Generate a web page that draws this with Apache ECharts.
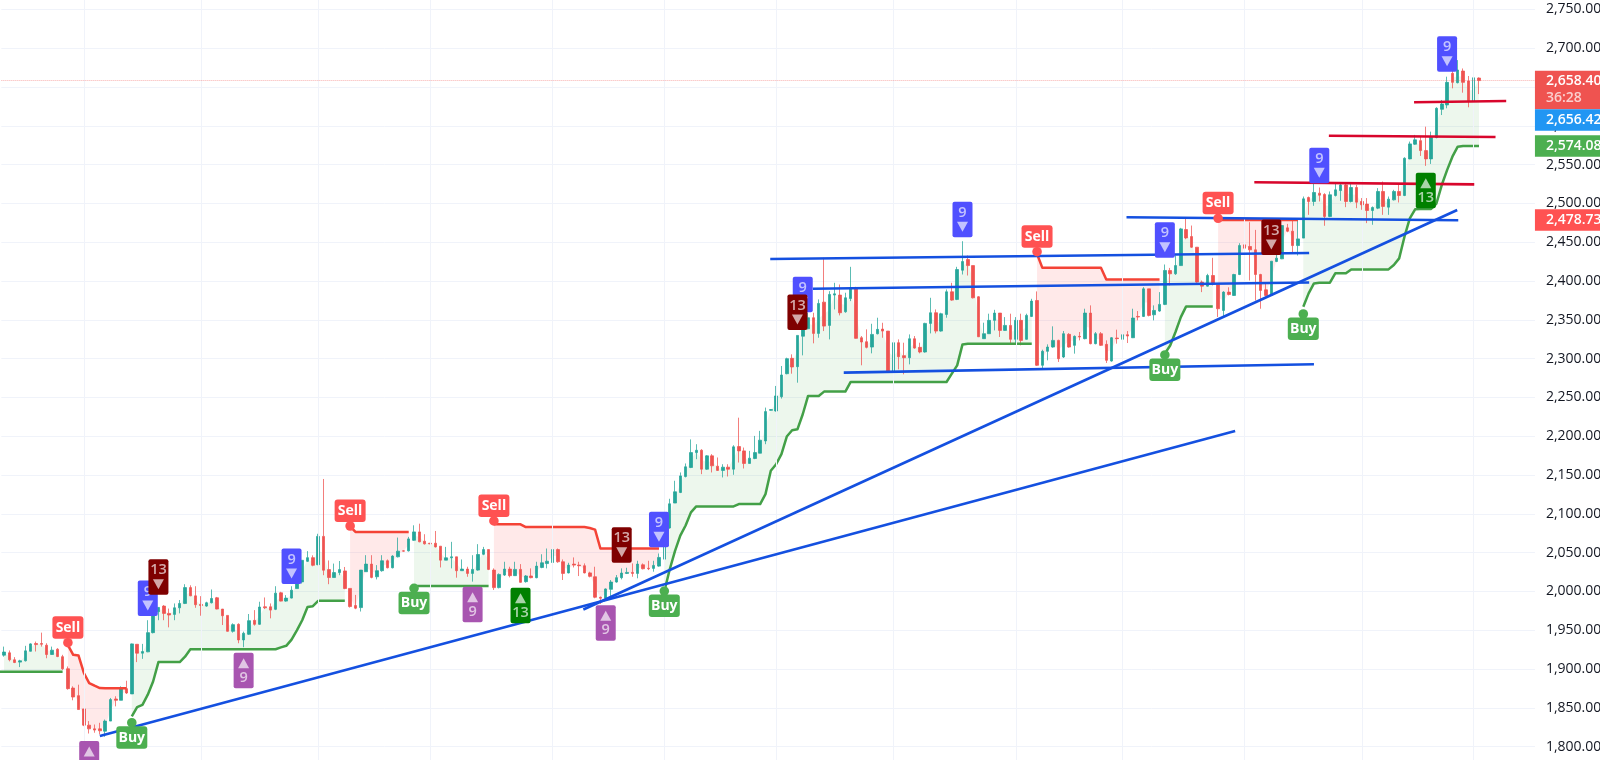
<!DOCTYPE html>
<html><head><meta charset="utf-8">
<style>html,body{margin:0;padding:0;background:#fff;overflow:hidden}#c{width:1600px;height:760px}</style>
<script src="https://cdn.jsdelivr.net/npm/echarts@6/dist/echarts.min.js"></script>
</head><body><div id="c"></div>
<script>
// [open, close, low, high]
const candles = [
[1918,1922,1916,1929],[1921,1912,1910,1924],[1912,1908.5,1907.7,1915.4],[1909,1910.7,1902.6,1912],[1910.7,1923.5,1909.8,1930],
[1923,1932.5,1922.7,1933.3],[1933,1931.6,1922.7,1935.5],[1933,1932,1929,1947],[1930.8,1918.8,1914,1933.3],[1918.8,1924.4,1918.4,1929],
[1925.6,1916.2,1915.4,1927],[1916,1900.4,1899,1918.4],[1900.4,1874.8,1873.5,1903.4],[1875.6,1864,1859.8,1877.8],[1865.8,1847.9,1847.9,1879.9],
[1848.7,1827.8,1826.5,1848.7],[1827.8,1823,1817,1833],[1823,1821.4,1818,1828.6],[1823,1820.5,1815.8,1830.8],[1820,1833,1812.8,1835],
[1833,1860.7,1833,1862.8],[1861.5,1859.8,1852,1865],[1859.8,1874.8,1859.8,1877.8],[1874.8,1869.2,1868,1885],[1868,1932.5,1868,1933],
[1932,1920.5,1909,1932],[1920.5,1922.6,1913.2,1932.5],[1922.2,1947,1921.8,1963],[1947,1976,1946,1980],[1974,1979.5,1963,1980],
[1981.2,1971.8,1963,1982.5],[1971.8,1969.7,1953.8,1978],[1970.5,1979,1963,1984.6],[1979,1984.6,1971.8,1989],[1984.6,2005,1983.8,2009.4],
[2005,1994.4,1994,2008],[1994.4,1983,1979,2006.8],[1983.4,1982,1968.8,1994],[1981.2,1985.5,1980.3,1986.8],[1985.5,1991,1984.6,2002.6],
[1991.9,1977.4,1977,1993],[1977.4,1968.8,1956.8,1977.4],[1969.2,1948.7,1948.3,1969.2],[1948.7,1957.3,1947,1959],[1957.7,1937.6,1933.3,1959],
[1937.6,1946.2,1928.2,1948.3],[1944.9,1962.4,1944,1971],[1962.8,1957.7,1956,1976],[1957.7,1980,1957,1986.8],[1980.3,1979,1977.4,1992.3],
[1980.3,1976,1965.4,1984.6],[1977,1997.9,1976,2006.8],[1998.3,1987.6,1987.2,1999.6],[1987.6,1991.5,1986.8,1995.3],[1991.5,2001.7,1991,2006.8],
[2003.8,2015.4,2003.8,2016.7],[2012.4,2040.2,2010.3,2040.2],[2038.9,2043.6,2038,2052],[2043.6,2033.8,2032.5,2046.6],[2034.6,2071,2033.8,2074.4],
[2071,2027.4,2021,2145],[2028.2,2018,2009.4,2040],[2018,2024.4,2018,2036],[2024.4,2028.2,2021,2039.3],[2026.5,2003.8,2003,2031.6],
[2004,1980.6,1979.3,2004],[1981.9,1978.5,1977.2,1995.6],[1979.3,2027.6,1974.2,2027.6],[2025.5,2035.3,2025.5,2046.8],[2035.3,2018.2,2017,2046.8],
[2019,2026.8,2015.6,2034],[2026.8,2039.6,2025.5,2046.8],[2039.6,2030.6,2029.8,2041.3],[2030.6,2045.6,2029.8,2046.8],[2044.7,2052,2043.9,2069.5],
[2052.4,2052,2051.5,2053],[2052.4,2067.8,2051.5,2070.4],[2066,2076.8,2065.2,2085.3],[2076.8,2064,2063.5,2087.4],[2064.8,2061.4,2060.5,2073.8],
[2062.2,2061.4,2061,2062.6],[2062.2,2057.5,2056.7,2078],[2058.4,2040.4,2031,2058.4],[2040.4,2043.4,2040.4,2057.5],[2043.4,2044.7,2029.8,2064],
[2044.7,2026.8,2017.8,2044.7],[2026.8,2028.9,2026.8,2041.3],[2028.9,2023.3,2019,2031.9],[2023.3,2028.5,2012.7,2046.8],[2027.6,2047.7,2026.8,2061],
[2048,2054,2046.8,2057.5],[2054,2028.5,2027.6,2054],[2027.6,2005,2002,2029.8],[2005,2022,2004,2023.3],[2021.2,2028.9,2020,2038.3],
[2028.9,2020.4,2018.2,2031.9],[2020.4,2028.5,2020,2038.3],[2028.5,2011.8,2011.4,2035.3],[2012.7,2020,2011.4,2021.2],[2020,2017.8,2017,2029.8],
[2017.8,2032.7,2017,2038.3],[2031,2037,2030,2048],[2036,2039,2029.8,2055.4],[2037.4,2054,2031,2064],[2054,2038.3,2037,2055.4],
[2038.3,2023.3,2014.8,2041.3],[2024,2034,2023.3,2037],[2035.3,2034,2031,2043.9],[2034,2033.2,2019.9,2038.3],[2033.2,2024,2023.3,2036.2],
[2024,2019.5,2018.2,2025.5],[2019,1992.6,1991.3,2031.9],[1992.6,1991.3,1984,1993.4],[1991.3,2003.3,1989.2,2004],[2002.8,2012.2,1993.4,2014.8],
[2012.2,2017.8,2011.4,2021.2],[2017.8,2023.8,2015.6,2029.8],[2023.3,2024.6,2022.5,2030.6],[2024.6,2023.3,2019,2036.2],[2023.3,2035.3,2017,2039.6],
[2034.4,2029.3,2028.5,2036.2],[2030,2029.3,2027.6,2039.6],[2029.8,2033.6,2025.5,2039.6],[2032.7,2043.9,2031.9,2049],[2041.7,2082.3,2041.3,2083.2],
[2081.9,2113,2081,2119.5],[2114,2128.5,2114,2142.7],[2127.6,2149,2126.8,2153.4],[2148.2,2160.7,2147,2165],[2159.8,2179,2159,2196],
[2179,2182,2170.5,2189.8],[2182,2157.6,2151.2,2183.4],[2157.6,2174.8,2156.8,2175.7],[2174.8,2162,2153.4,2177],[2161.5,2156,2155.5,2172.7],
[2156,2160.2,2147,2164],[2160.2,2157.6,2148.2,2164],[2157.6,2186.4,2150.4,2188.5],[2186.8,2181.2,2166.2,2224],[2181.2,2165,2158.5,2185.5],
[2165,2171.8,2165,2181.2],[2171.4,2179,2170.5,2200.5],[2178.2,2195,2178.2,2207],[2194,2231.8,2189.8,2237],[2233.5,2234.4,2233,2235],
[2232.7,2252,2231.8,2264.9],[2251.1,2279,2248.6,2290.6],[2280.7,2300,2279.9,2301.3],[2300.5,2289.3,2280.7,2305.6],[2289.7,2330,2269.1,2330],
[2329,2352.8,2304.3,2361.3],[2338.6,2352.8,2337.8,2359.2],[2352.8,2332.6,2319.8,2359.2],[2332.6,2371.2,2327,2376.4],[2372.9,2342,2335.6,2430],
[2342.9,2382.8,2324.9,2387],[2382,2383.6,2363.5,2397.8],[2382,2359.2,2355.8,2395.6],[2360.5,2378.5,2359.2,2385],[2377.6,2391.4,2374.2,2418.4],
[2391.4,2326.2,2325.8,2392.6],[2327,2321.5,2291.5,2329.2],[2321.9,2314.6,2313.3,2337.8],[2315,2331.3,2306.9,2345],[2332.2,2337.8,2331.3,2352.8],
[2338.2,2335.6,2327,2346.3],[2335.6,2284.2,2284.2,2335.6],[2284.2,2320.6,2284.2,2328.3],[2320.6,2302.6,2286.3,2324.9],[2303.9,2301.3,2279.9,2320.6],
[2301.3,2325.7,2292.7,2331.3],[2325.7,2313.7,2312.9,2329.2],[2314.6,2308.6,2306.9,2320.6],[2308.6,2345.5,2307.8,2346.3],[2345.5,2359.2,2332.6,2378.5],
[2359.2,2335.6,2332.6,2363.5],[2335.6,2357.9,2334.8,2359.2],[2357,2386.2,2352.8,2389.2],[2386.2,2375.5,2374.6,2397.8],[2376.4,2414.9,2375.5,2418.4],
[2414,2425.2,2408.5,2451.4],[2427.8,2420,2407.2,2433],[2420,2378.5,2377.6,2420],[2379.8,2328.3,2327.9,2380.6],[2325.8,2332.2,2325.8,2346.4],
[2332.2,2349.4,2332.2,2358],[2349.4,2358.8,2336.5,2363],[2358.8,2336.5,2328,2358.8],[2336.5,2342.9,2336,2353.6],[2342.9,2325,2318.5,2358],
[2325,2349.4,2319.4,2353.6],[2349.4,2323.6,2317.2,2358],[2325,2355.8,2324.5,2358],[2354.5,2374.2,2353.7,2377.2],[2375,2291.5,2290.6,2386.7],
[2291.5,2309.5,2287.2,2311.6],[2309.5,2315,2297.9,2318.5],[2315,2323.6,2314.2,2341.7],[2323.6,2300,2295.8,2324.5],[2302.2,2332.2,2300.9,2335.7],
[2331.4,2315,2314.2,2333],[2317.2,2328.8,2306.5,2330],[2328.8,2328,2323.6,2334.4],[2325.8,2358.8,2325,2364.4],[2358.8,2319.4,2318.5,2368.7],
[2319.4,2332.2,2318.5,2334.4],[2332.2,2317.2,2316.4,2334.4],[2318.5,2297.9,2294.5,2323.6],[2297,2327,2296.2,2327.9],[2326.6,2325.8,2319.4,2337.4],
[2325,2330.9,2318,2337.4],[2330.9,2329.2,2320.2,2335.6],[2327,2352.4,2326.6,2364.4],[2354.5,2353.7,2349.4,2361.4],[2354.5,2390,2353.7,2392.2],
[2390,2355.8,2354.5,2390],[2356.6,2362.2,2349.4,2368.7],[2361.4,2370,2360.5,2385.8],[2370,2413.7,2369,2421.4],[2413.7,2409.4,2394.4,2417],
[2409.4,2420,2408,2433],[2420,2467.3,2419.7,2468.6],[2466.4,2455.7,2454,2480],[2457.4,2443.7,2442.8,2471.6],[2443.7,2398.7,2397.8,2443.7],
[2398.7,2393.5,2385.8,2400.8],[2393.5,2407.2,2393,2409.4],[2407.2,2395.7,2394.4,2430],[2395.2,2364.4,2353.7,2395.2],[2362.2,2385.8,2354.5,2387],
[2385.8,2382.8,2381.5,2392],[2381.5,2408.5,2381,2409.4],[2408.5,2445.8,2407.7,2448.8],[2446.7,2442.4,2441.6,2460.9],[2444.6,2440.3,2400.8,2475.9],
[2440.3,2408.5,2375,2466],[2408.5,2388,2364.4,2409.4],[2388.8,2381.5,2380.2,2398.7],[2381.5,2425.7,2381,2425.7],[2425.3,2429.6,2424.4,2440.3],
[2428.7,2471.6,2428.3,2472],[2468.6,2464.3,2463,2473.7],[2464.3,2445.8,2435,2478],[2445.8,2454.4,2433,2478],[2455.4,2506,2455.4,2509],
[2507.7,2502.6,2485.4,2509],[2502.6,2514.2,2497,2528.3],[2513.3,2510.7,2502.6,2520.6],[2511.6,2483.3,2471.3,2513.3],[2483.3,2511.2,2482.4,2515.5],
[2510.3,2517.6,2509,2526.2],[2516.7,2524,2503.5,2526.2],[2524,2502.6,2495.3,2526.2],[2502.6,2520.6,2501.3,2526.2],[2520.6,2501.7,2494,2524],
[2502.6,2498.3,2491.9,2507],[2499.2,2491,2474.7,2507],[2491,2494.9,2472.6,2496.2],[2494,2515.5,2492.7,2519.8],[2515.5,2496.2,2485.4,2528.3],
[2495.3,2505.6,2485.4,2509],[2504.7,2515.5,2503.9,2517.6],[2515.5,2510.3,2501.3,2526.2],[2510.3,2558.3,2509.5,2559.6],[2557.5,2576.8,2557,2579.8],
[2576.4,2582,2575.5,2588.4],[2581,2568.2,2561.3,2586.2],[2568.2,2557.5,2548.5,2599],[2557.5,2585.4,2551,2592.6],[2585,2622.7,2584,2624],
[2621.4,2628.2,2614,2633.4],[2627,2656.1,2622.7,2663.4],[2667.7,2656.1,2648.4,2672],[2655.7,2672,2654.8,2684.8],[2670.7,2656.1,2642.8,2674],
[2657.8,2632.5,2624,2664.3],[2632,2662,2631.2,2672.8],[2661.7,2658.4,2641,2662.5]
];
const blankBars = 10;
const yTicksMin = 1750, yTicksMax = 2800, yTickStep = 50;
// supertrend plateaus and steps: [fromBar, toBar, price]
const greenTrend = [[0,11,1896.6],
[24,24,1839],[25,25,1851],[26,26,1854],[27,27,1867],[28,28,1884],[29,33,1909],[34,34,1916],[35,51,1925.6],[52,52,1928],[53,53,1930],[54,54,1938],[55,55,1950],[56,56,1963],[57,57,1980],[58,58,1981],[59,64,1988],
[77,91,2007.1],
[124,124,2000],[125,125,2028],[126,126,2052],[127,127,2072],[128,128,2085],[129,129,2102],[130,137,2109.6],[138,142,2112.7],[143,143,2125.5],[144,144,2155.5],[145,145,2164],[146,146,2177],[147,147,2199.7],[148,148,2207.8],[149,149,2209],[150,150,2228.4],[151,153,2252],[154,158,2257.6],[159,177,2270],[178,178,2280.7],[179,179,2291.4],[180,180,2318.4],[181,193,2319.3],
[218,218,2306.5],[219,219,2317],[220,220,2334.4],[221,221,2353.6],[222,227,2367.4],
[244,244,2367],[245,245,2384.2],[246,246,2397],[247,249,2398],[250,252,2410],[253,260,2415.1],[261,261,2420.7],[262,262,2429.3],[263,263,2457.2],[264,264,2480.9],[265,265,2492.5],[266,268,2493],[269,269,2500],[270,270,2523.8],[271,271,2543],[272,272,2560.3],[273,273,2573.2],[274,277,2574.08]];
const redTrend = [[12,12,1931],[13,13,1918.4],[14,14,1917.5],[15,15,1895],[16,16,1882],[17,17,1878.6],[18,18,1875.6],[19,23,1875.2],
[65,65,2084],[66,76,2076.8],
[92,97,2086.6],[98,109,2083],[110,110,2081.9],[111,111,2079.8],[112,123,2055.4],
[194,194,2435],[195,206,2417.1],[207,217,2402.1],
[228,243,2478.73]];
const greenLead = [[-1,1896.6],[0,1896.6]];
// straight drawings: [[bar, price],[bar, price]]
const blueDrawings = [
[[18,1813.8],[231.2,2206.8]],[[108.8,1976.8],[272.9,2491.6]],[[143.9,2428.5],[245.1,2436.2]],
[[151.9,2390.2],[245.1,2398.1]],[[157.7,2282],[246,2292.8]],[[210.8,2482.2],[273.1,2478.4]]];
const redDrawings = [[[234.8,2527.3],[276.1,2524.7]],[[248.8,2587.4],[280.1,2585.7]],[[264.8,2630.4],[282.1,2632.1]]];
const monthBars = [15,37,59,80,103,124,145,167,190,210,233,255,276];
const sellSignals = [[12,1934],[65,2084.4],[92,2090.9],[194,2437.9],[228,2480.9]];
const buySignals = [[24,1830.9],[77,2004.1],[124,2000.6],[218,2304.8],[244,2357.6]];
const blueNines = [[27,1968.4],[54,2009.6],[123,2057],[150,2360],[180,2456.4],[218,2430],[247,2526],[271,2669.8]];
const redThirteens = [[29,1995.9],[116,2037.1],[149,2337],[238,2433.6]];
const purpleNines = [[16,1807.4],[45,1921.1],[88,2006.2],[113,1982.2]];
const greenThirteens = [[97,2004.9],[267,2539.7]];
// right-scale tags: [position on scale, first line, second line, colour]
const priceTags = [[2646.3,'2,658.40','36:28','#ef5350'],[2607.6,'2,656.42','','#2196f3'],[2574.08,'2,574.08','','#4caf50'],[2478.73,'2,478.73','','#ff5252']];
const lastPrice = 2658.4;

const FONT = '"Open Sans","Noto Sans",sans-serif';
const UP='#26a69a', DOWN='#ef5350';
const N = candles.length;
const cats = Array.from({length:N+blankBars},(_,i)=>String(i));
function expand(steps){const a=new Array(N).fill(null);steps.forEach(([f,t,v])=>{for(let i=f;i<=t;i++)a[i]=v;});return a;}
const mid = candles.map(c=>(c[0]+c[1])/2);
function fillDelta(a){return a.map((v,i)=>v==null?null:mid[i]-v);}
const green=expand(greenTrend), red=expand(redTrend);

function trendSeries(name,values,color,fill){
  return [
   {name,type:'line',stack:name,stackStrategy:'all',data:values,symbol:'none',z:4,connectNulls:false,
    lineStyle:{color,width:2.5,join:'round'},itemStyle:{color},silent:true},
   {name:name+'f',type:'line',stack:name,stackStrategy:'all',data:fillDelta(values),symbol:'none',z:1,connectNulls:false,
    lineStyle:{width:0,opacity:0},areaStyle:{color:fill,opacity:1},silent:true}
  ];
}
function drawing(pts,color,w,clip){
  return {type:'line',xAxisIndex:1,data:pts,symbol:'none',z:5,silent:true,clip:clip!==false,lineStyle:{color,width:w||2.6}};
}
function rr(x,y,w,h,r,fill){return {type:'rect',shape:{x,y,width:w,height:h,r},style:{fill}};}
function txt(x,y,text,size,fill,weight){return {type:'text',style:{x,y,text,fill,font:`${weight||'bold'} ${size}px ${FONT}`,align:'center',verticalAlign:'middle'}};}
function tri(cx,cy,w,h,up,fill){
  const t=cy-h/2,b=cy+h/2;
  return {type:'polygon',shape:{points:up?[[cx,t],[cx+w/2,b],[cx-w/2,b]]:[[cx,b],[cx+w/2,t],[cx-w/2,t]]},style:{fill}};
}
function markers(data,draw,z){
  return {type:'custom',xAxisIndex:1,data,z,silent:true,clip:false,
    encode:{x:0,y:1},
    renderItem(params,api){const p=api.coord([api.value(0),api.value(1)]);return {type:'group',children:draw(p[0],p[1])};}};
}
const pale='rgba(255,255,255,.66)';
const sell=(x,y)=>[{type:'circle',shape:{cx:x,cy:y,r:4.8},style:{fill:'#ff5252'}},rr(x-15.5,y-26.5,31,22.5,3,'#ff5252'),txt(x,y-15,'Sell',14,'#fff')];
const buy=(x,y)=>[{type:'circle',shape:{cx:x,cy:y,r:4.8},style:{fill:'#4caf50'}},rr(x-15.5,y+3.5,31,22.5,3,'#4caf50'),txt(x,y+15,'Buy',14,'#fff')];
const down=(label,col)=>(x,y)=>[rr(x-10,y-35.5,20,35.5,2,col),txt(x,y-24.5,label,14.5,pale,'600'),tri(x,y-10.5,11,10,false,pale)];
const up=(label,col)=>(x,y)=>[rr(x-10,y,20,35.5,2,col),tri(x,y+10.5,11,10,true,pale),txt(x,y+25,label,14.5,pale,'600')];

const series=[
 {type:'line',xAxisIndex:1,data:[],z:0,silent:true,
  markLine:{silent:true,symbol:'none',animation:false,label:{show:false},lineStyle:{color:'#f0f3fa',width:1,type:'solid'},
   data:monthBars.map(b=>({xAxis:b}))}},
 ...trendSeries('green',green,'#43a047','rgba(76,175,80,0.10)'),
 ...trendSeries('red',red,'#f44336','rgba(255,82,82,0.13)'),
 drawing(greenLead,'#43a047',2.5,false),
 {type:'candlestick',data:candles,barWidth:3,z:3,silent:true,
  itemStyle:{color:UP,color0:DOWN,borderColor:'rgba(38,166,154,.75)',borderColor0:'rgba(239,83,80,.75)',borderWidth:1}},
 {type:'line',xAxisIndex:1,data:[],z:2,silent:true,
  markLine:{silent:true,symbol:'none',animation:false,label:{show:false},lineStyle:{color:'#ef5350',width:1,type:'dotted',opacity:.45},
   data:[{yAxis:lastPrice}]}},
 ...blueDrawings.map(p=>drawing(p,'#1450e0')),
 ...redDrawings.map(p=>drawing(p,'#d8062c')),
 markers(blueNines,down('9','#5050ff'),6),
 markers(redThirteens,down('13','#7f0000'),7),
 markers(purpleNines,up('9','#a855b0'),6),
 markers(greenThirteens,up('13','#008000'),6),
 markers(sellSignals,sell,8),
 markers(buySignals,buy,8),
 {type:'custom',xAxisIndex:1,z:20,silent:true,clip:false,data:priceTags.map(t=>[0,t[0]]),
  encode:{x:0,y:1},
  renderItem(params,api){
    const t=priceTags[params.dataIndex], cs=params.coordSys;
    const y=api.coord([0,t[0]])[1], x=cs.x+cs.width, two=!!t[2], h=two?38.6:21.4;
    const kids=[{type:'rect',shape:{x,y:y-h/2,width:70,height:h},style:{fill:t[3]}},
      {type:'text',style:{x:x+11,y:two?y-9.3:y,text:t[1],fill:'#fff',font:`600 14px ${FONT}`,align:'left',verticalAlign:'middle'}}];
    if(two)kids.push({type:'text',style:{x:x+11,y:y+7.7,text:t[2],fill:'rgba(255,255,255,.72)',font:`600 14px ${FONT}`,align:'left',verticalAlign:'middle'}});
    return {type:'group',children:kids};
  }}
];
const barW=5.325, gridLeft=1.34, pxPerUnit=0.776;
const chart=echarts.init(document.getElementById('c'),null,{renderer:'canvas',width:1600,height:760});
chart.setOption({
 animation:false,backgroundColor:'#fff',
 grid:{left:gridLeft,width:barW*(N+blankBars),top:48.3-(yTicksMax-2700)*pxPerUnit,height:(yTicksMax-yTicksMin)*pxPerUnit,containLabel:false,outerBoundsMode:'none'},
 xAxis:[
  {type:'category',data:cats,boundaryGap:true,show:false},
  {type:'value',min:-0.5,max:N+blankBars-0.5,show:false,splitLine:{show:false}}
 ],
 yAxis:{type:'value',position:'right',min:yTicksMin,max:yTicksMax,interval:yTickStep,scale:true,
  axisLine:{show:false},axisTick:{show:false},
  splitLine:{show:true,lineStyle:{color:'#f0f3fa',width:1}},
  axisLabel:{margin:11,color:'#131722',fontSize:14,fontFamily:FONT,
   formatter:v=>v.toLocaleString('en-US',{minimumFractionDigits:2,maximumFractionDigits:2})}},
 series
});
</script></body></html>
